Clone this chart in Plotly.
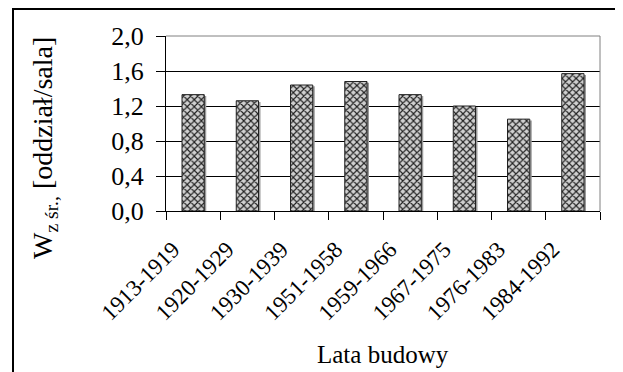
import plotly.graph_objects as go

categories = ["1913-1919", "1920-1929", "1930-1939", "1951-1958",
              "1959-1966", "1967-1975", "1976-1983", "1984-1992"]
values = [1.33, 1.26, 1.44, 1.48, 1.33, 1.20, 1.05, 1.57]
y_ticks = [0.0, 0.4, 0.8, 1.2, 1.6, 2.0]

W, H = 623, 372
OFF = 8  # page body margin offset
L, R, T, B = 166 - OFF, 600 - OFF, 36 - OFF, 211 - OFF

def px(x):
    return (x - OFF - L) / (R - L)

def py(y):
    return (B - (y - OFF)) / (B - T)

FONT = "Liberation Serif, Times New Roman, serif"
BAR_W = 0.41
cat_px = (R - L) / len(categories)

fig = go.Figure()
# soft drop shadow behind each bar
fig.add_trace(go.Bar(
    x=categories, y=[v - 0.015 for v in values],
    marker=dict(color="#9a9a9a", line=dict(width=0)),
    width=BAR_W, offset=-BAR_W / 2 + 2.0 / cat_px,
    hoverinfo="skip",
))
fig.add_trace(go.Bar(
    x=categories, y=values,
    marker=dict(
        color="#b0b0b0",
        line=dict(color="#222222", width=1),
        pattern=dict(shape="x", size=5, solidity=0.4, fgcolor="#202020",
                     bgcolor="#d0d0d0", fillmode="replace"),
    ),
    width=BAR_W, offset=-BAR_W / 2,
))

fig.update_layout(
    width=W, height=H,
    margin=dict(l=L, r=W - R, t=T, b=H - B, autoexpand=False),
    paper_bgcolor="white", plot_bgcolor="white",
    showlegend=False,
    barmode="overlay",
    font=dict(family=FONT, size=23, color="black"),
    separators=",.",
    xaxis=dict(
        type="category",
        tickson="boundaries",
        ticks="outside", ticklen=8, tickcolor="black", tickwidth=1,
        showline=True, linecolor="black", linewidth=1,
        showgrid=False,
        tickangle=-45,
        tickfont=dict(size=23),
        ticklabelstandoff=15,
        ticklabelshift=-20,
    ),
    yaxis=dict(
        range=[0, 2.0],
        tickvals=y_ticks,
        tickformat=".1f",
        ticks="outside", ticklen=9, tickcolor="black", tickwidth=1,
        showline=True, linecolor="black", linewidth=1,
        showgrid=True, gridcolor="black", gridwidth=1,
        zeroline=False,
        tickfont=dict(size=26),
        ticklabelstandoff=7,
    ),
    shapes=[
        dict(type="line", xref="paper", yref="paper", x0=0, x1=1, y0=1, y1=1,
             line=dict(color="#808080", width=1)),
        dict(type="line", xref="paper", yref="paper", x0=1, x1=1, y0=0, y1=1,
             line=dict(color="#808080", width=1)),
        dict(type="rect", xref="paper", yref="paper",
             x0=px(13), x1=px(619), y0=py(9), y1=py(380),
             line=dict(color="black", width=2), fillcolor="rgba(0,0,0,0)"),
    ],
    annotations=[
        dict(text="W<sub>z śr.,</sub> [oddział/sala]", textangle=-90,
             xref="paper", yref="paper", x=px(44), y=py(148),
             xanchor="center", yanchor="middle", showarrow=False,
             font=dict(size=28, family=FONT)),
        dict(text="Lata budowy",
             xref="paper", yref="paper", x=px(383), y=py(354),
             xanchor="center", yanchor="middle", showarrow=False,
             font=dict(size=25, family=FONT)),
    ],
)

fig.write_html("out.html")
